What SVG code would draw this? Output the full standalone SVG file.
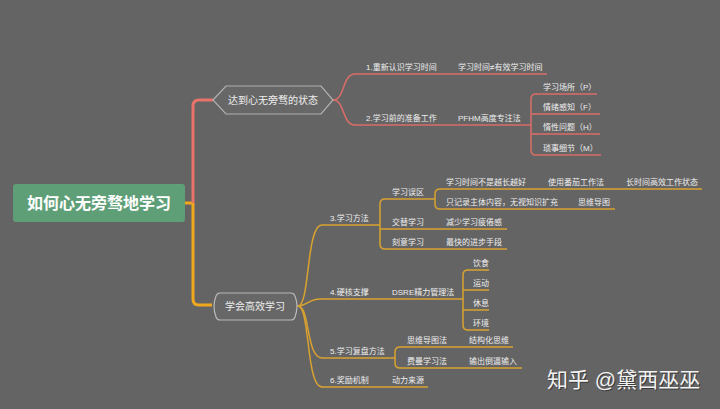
<svg xmlns="http://www.w3.org/2000/svg" width="720" height="409" viewBox="0 0 720 409">
<style>
text{font-family:"Liberation Sans","Noto Sans CJK SC",sans-serif;fill:#eeeeee}
.s{font-size:8px}
.m{font-size:10px;text-anchor:middle}
.r{stroke:#d96d68;stroke-width:1.5;fill:none;stroke-linecap:round}
.o{stroke:#d9a230;stroke-width:1.5;fill:none;stroke-linecap:round}
.ul{stroke-width:1.5;fill:none}
.ur{stroke:#d96d68}
.uo{stroke:#d9a230}
.wm{font-size:21px}
</style>
<rect width="720" height="409" fill="#646464"/>
<g id="connectors">
<path d="M185,203 H193" stroke="#f0a81e" stroke-width="3" fill="none"/>
<path d="M193,203 V106 Q193,100 199,100 H213" stroke="#e8736b" stroke-width="3" fill="none"/>
<path d="M193,203 V299 Q193,305 199,305 H212" stroke="#f0a81e" stroke-width="3" fill="none"/>
<path class="r" d="M333,100 C345,100 342,74 355,74"/>
<path class="r" d="M333,100 C345,100 342,125 355,125"/>
<path class="r" d="M531,125 V99 Q531,94 536,94 M531,125 V150 Q531,155 536,155 M531,114 H536 M531,134 H536"/>
<path class="o" d="M298,306 C310,306 306,225 322,225"/>
<path class="o" d="M298,306 C308,306 308,299 320,299"/>
<path class="o" d="M298,306 C310,306 306,358 322,358"/>
<path class="o" d="M298,306 C310,306 306,387 322,387"/>
<path class="o" d="M380,225 V204 Q380,199 385,199 M380,225 V244 Q380,249 385,249 M380,229 H385"/>
<path class="o" d="M435,199 V194 Q435,189 440,189 M435,199 V204 Q435,209 440,209"/>
<path class="o" d="M463,299 V275 Q463,270 468,270 M463,299 V325 Q463,330 468,330 M463,290 H468 M463,310 H468"/>
<path class="o" d="M395,358 V352 Q395,347 400,347 M395,358 V363 Q395,368 400,368"/>
</g>
<g id="root">
<rect x="13" y="184" width="172" height="38" rx="3" fill="#5f9f78"/>
<text x="99" y="209" style="font-size:16px;font-weight:bold;text-anchor:middle;fill:#ffffff">如何心无旁骛地学习</text>
</g>
<g id="state">
<polygon points="213,100 226,86 321,86 333,100 321,114 226,114" fill="#676767" stroke="#b0b0b0" stroke-width="1.2"/>
<text class="m" x="273" y="104">达到心无旁骛的状态</text>
</g>
<g id="efficient">
<path d="M220,293 H291 Q294,293 295,296 Q299,306 295,317 Q294,320 291,320 H220 Q217,320 216,317 Q212,306 216,296 Q217,293 220,293 Z" fill="#676767" stroke="#b8b8b8" stroke-width="1.2"/>
<text class="m" x="255" y="310">学会高效学习</text>
</g>
<g id="n1"><path class="ul ur" d="M355,74 H448"/><text class="s" x="366" y="70">1.重新认识学习时间</text></g>
<g id="n1a"><path class="ul ur" d="M448,74 H547"/><text class="s" x="458" y="70">学习时间≠有效学习时间</text></g>
<g id="n2"><path class="ul ur" d="M355,125 H448"/><text class="s" x="366" y="121">2.学习前的准备工作</text></g>
<g id="n2a"><path class="ul ur" d="M448,125 H531"/><text class="s" x="458" y="121">PFHM高度专注法</text></g>
<g id="p"><path class="ul ur" d="M536,94 H597"/><text class="s" x="543" y="90">学习场所（P）</text></g>
<g id="f"><path class="ul ur" d="M536,114 H600"/><text class="s" x="543" y="110">情绪感知（F）</text></g>
<g id="h"><path class="ul ur" d="M536,134 H600"/><text class="s" x="543" y="130">惰性问题（H）</text></g>
<g id="mm"><path class="ul ur" d="M536,155 H601"/><text class="s" x="543" y="151">琐事细节（M）</text></g>
<g id="n3"><path class="ul uo" d="M322,225 H380"/><text class="s" x="330" y="221">3.学习方法</text></g>
<g id="n3a"><path class="ul uo" d="M385,199 H435"/><text class="s" x="392" y="195">学习误区</text></g>
<g id="n3a1"><path class="ul uo" d="M440,189 H540"/><text class="s" x="446" y="185">学习时间不是越长越好</text></g>
<g id="n3a1a"><path class="ul uo" d="M540,189 H618"/><text class="s" x="548" y="185">使用番茄工作法</text></g>
<g id="n3a1b"><path class="ul uo" d="M618,189 H702"/><text class="s" x="626" y="185">长时间高效工作状态</text></g>
<g id="n3a2"><path class="ul uo" d="M440,209 H570"/><text class="s" x="446" y="205">只记录主体内容，无视知识扩充</text></g>
<g id="n3a2a"><path class="ul uo" d="M570,209 H615"/><text class="s" x="578" y="205">思维导图</text></g>
<g id="n3b"><path class="ul uo" d="M385,229 H440"/><text class="s" x="392" y="225">交替学习</text></g>
<g id="n3b1"><path class="ul uo" d="M440,229 H507"/><text class="s" x="446" y="225">减少学习疲倦感</text></g>
<g id="n3c"><path class="ul uo" d="M385,249 H440"/><text class="s" x="392" y="245">刻意学习</text></g>
<g id="n3c1"><path class="ul uo" d="M440,249 H507"/><text class="s" x="446" y="245">最快的进步手段</text></g>
<g id="n4"><path class="ul uo" d="M320,299 H386"/><text class="s" x="330" y="295">4.硬核支撑</text></g>
<g id="n4a"><path class="ul uo" d="M386,299 H463"/><text class="s" x="392" y="295">DSRE精力管理法</text></g>
<g id="n4a1"><path class="ul uo" d="M468,270 H489"/><text class="s" x="473" y="266">饮食</text></g>
<g id="n4a2"><path class="ul uo" d="M468,290 H489"/><text class="s" x="473" y="286">运动</text></g>
<g id="n4a3"><path class="ul uo" d="M468,310 H489"/><text class="s" x="473" y="306">休息</text></g>
<g id="n4a4"><path class="ul uo" d="M468,330 H489"/><text class="s" x="473" y="326">环境</text></g>
<g id="n5"><path class="ul uo" d="M322,358 H395"/><text class="s" x="330" y="354">5.学习复盘方法</text></g>
<g id="n5a"><path class="ul uo" d="M400,347 H463"/><text class="s" x="407" y="343">思维导图法</text></g>
<g id="n5a1"><path class="ul uo" d="M463,347 H513"/><text class="s" x="469" y="343">结构化思维</text></g>
<g id="n5b"><path class="ul uo" d="M400,368 H463"/><text class="s" x="407" y="364">费曼学习法</text></g>
<g id="n5b1"><path class="ul uo" d="M463,368 H522"/><text class="s" x="469" y="364">输出倒逼输入</text></g>
<g id="n6"><path class="ul uo" d="M322,387 H386"/><text class="s" x="330" y="383">6.奖励机制</text></g>
<g id="n6a"><path class="ul uo" d="M386,387 H428"/><text class="s" x="392" y="383">动力来源</text></g>
<g id="watermark">
<text class="wm" x="548" y="388" style="fill:#3a3a3a">知乎 @黛西巫巫</text>
<text class="wm" x="547" y="387" style="fill:#f2f2f2">知乎 @黛西巫巫</text>
</g>
</svg>
